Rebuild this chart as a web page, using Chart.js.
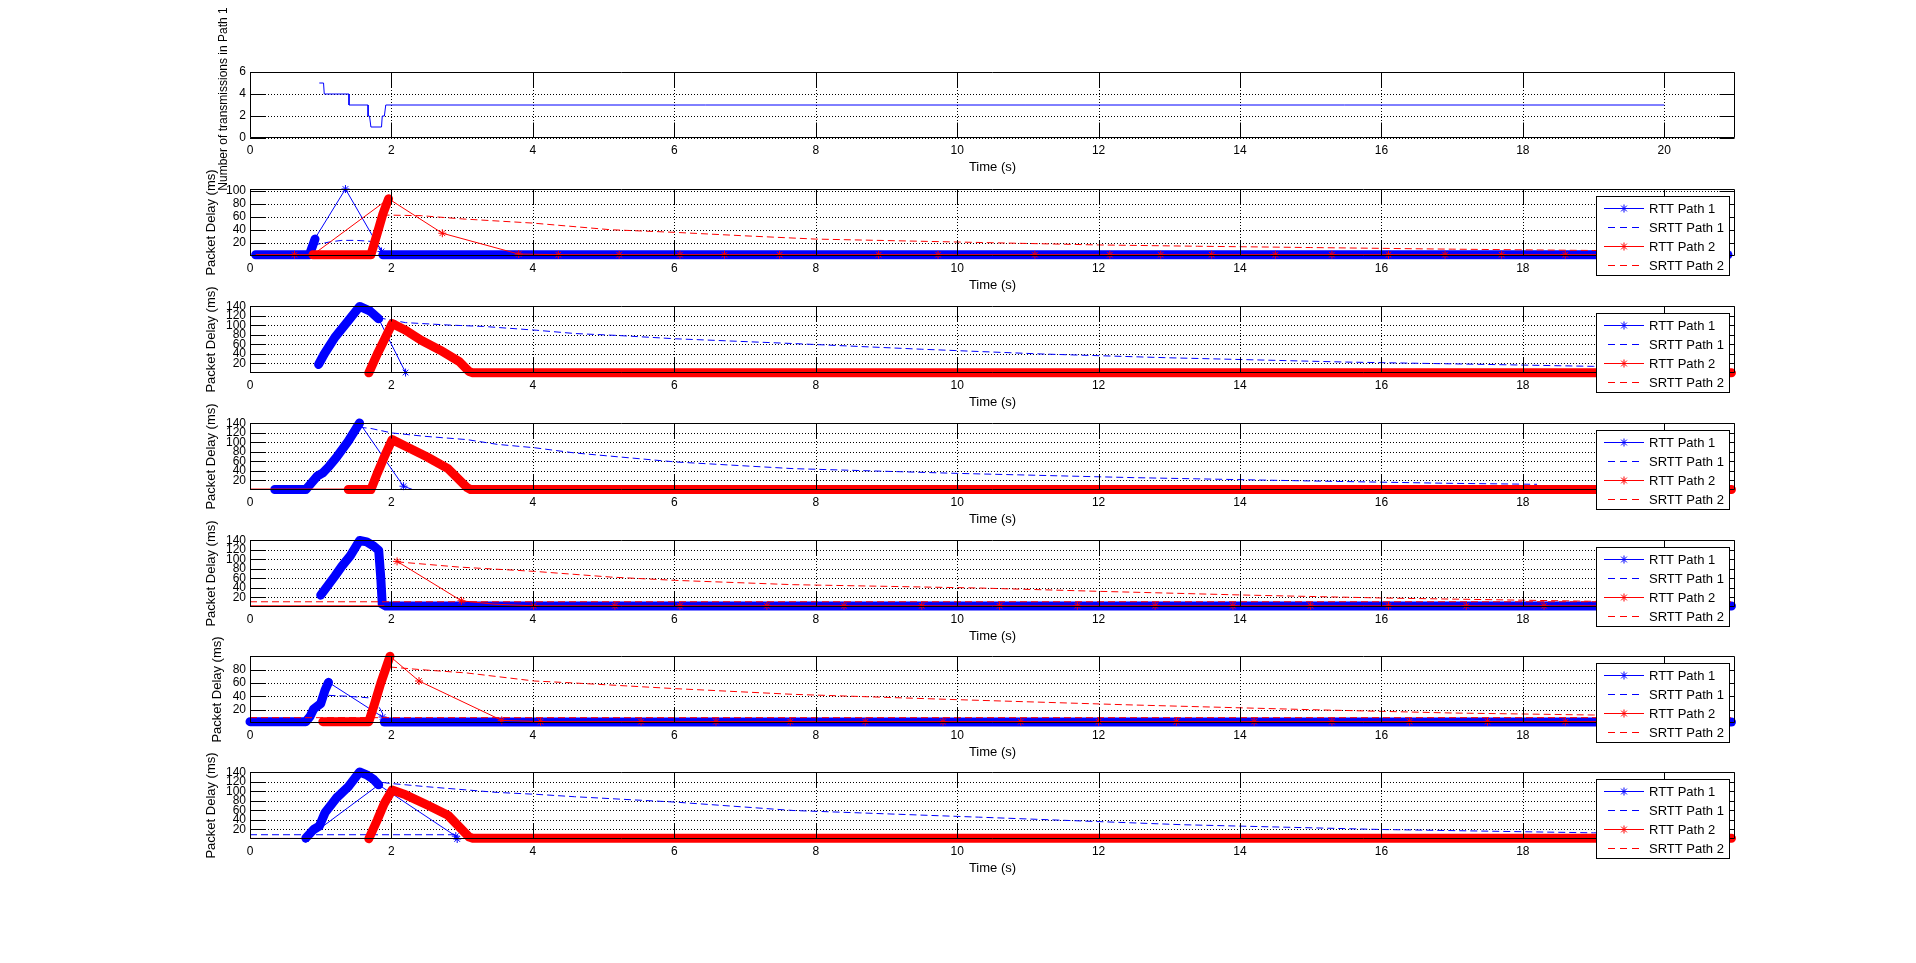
<!DOCTYPE html>
<html><head><meta charset="utf-8">
<script src="https://cdn.jsdelivr.net/npm/chart.js@4/dist/chart.umd.min.js"></script>
<style>
html,body{margin:0;padding:0;background:#fff;width:1916px;height:963px;overflow:hidden;}
canvas{position:absolute;left:0;top:0;}
</style></head><body>
<script>
// ---------- tick labels ----------
const timeTicks = [0,2,4,6,8,10,12,14,16,18,20];
const nTxTicks = [0,2,4,6];
const delayTicks140 = [20,40,60,80,100,120,140];
const delayTicks100 = [20,40,60,80,100];
const delayTicks80 = [20,40,60,80];
const legendLabels = ['RTT Path 1','SRTT Path 1','RTT Path 2','SRTT Path 2'];
const xTitle = 'Time (s)';
const yTitleTx = 'Number of transmissions in Path 1';
const yTitleDelay = 'Packet Delay (ms)';

// ---------- subplot 1 : number of transmissions ----------
const tx1 = [[0.98,5],[1.04,5],[1.05,4],[1.40,4],[1.40,3],[1.67,3],[1.67,2],[1.69,2],[1.71,1],[1.86,1],[1.87,2],[1.90,2],[1.92,3],[20,3]];

// ---------- subplot 2 ----------  ([x, y, 0] = vertex without marker)
const s2_rtt1_band1 = [[0.08,2],[0.84,2],[0.88,14],[0.92,26]];
const s2_rtt1_line = [[0.92,27,0],[1.35,103],[1.86,7],[1.9,2,0]];
const s2_rtt1_band2 = [[1.88,2],[20.9,2]];
const s2_srtt1 = [[0.9,17],[1.0,19],[1.15,22],[1.3,24],[1.5,24],[1.65,23],[1.75,22],[1.82,15],[1.88,7],[2.0,5],[20.9,4]];
const s2_rtt2_band = [[0.89,2],[1.71,2],[1.8,35],[1.88,65],[1.96,88]];
const s2_rtt2_line = [[0.08,2,0],[0.63,2],[0.89,2,0],[1.96,88,0],[2.72,35],[3.80,3],[4.36,2],[5.22,2],[6.08,2],[6.71,2],[7.49,2],[8.89,2],[9.73,2],[11.10,2],[12.16,2],[12.88,2],[13.6,2],[14.5,2],[15.3,2],[16.1,2],[16.9,2],[17.7,2],[18.6,2],[19.4,2]];
const s2_srtt2 = [[1.875,63],[2.42,62],[3.0,57],[4.0,50.6],[5.1,40.4],[6.02,36.3],[7.0,31],[8.0,26],[10,21.5],[12,17],[13.4,15],[15,13],[17,10.5],[19,8.5],[20.9,7]];

// ---------- subplot 3 ----------
const s3_rtt1_band = [[0.97,18],[1.05,40],[1.2,75],[1.38,108],[1.55,140],[1.7,130],[1.82,114]];
const s3_rtt1_line = [[1.82,114,0],[2.2,1],[3.1,1,0],[20.9,1,0]];
const s3_srtt1 = [[1.82,116],[1.98,112],[2.2,106],[2.8,101],[3.3,98],[4.05,90],[4.6,83],[5.2,79],[6.02,72],[7.68,62],[9.5,50],[11.2,40],[13,32],[15.5,23],[17.5,18],[19,14],[20.9,11]];
const s3_rtt2_band = [[1.68,0.3],[1.8,40],[1.9,70],[2.01,104],[2.2,90],[2.42,69],[2.69,48],[2.96,24],[3.1,3],[3.15,0.3],[20.95,0.3]];

// ---------- subplot 4 ----------
const s4_rtt1_band = [[0.35,1],[0.79,1],[0.87,15],[0.95,29],[1.03,36],[1.12,50],[1.22,68],[1.39,103],[1.55,141]];
const s4_rtt1_line = [[1.55,141,0],[2.17,8],[2.3,1,0]];
const s4_srtt1 = [[1.55,132],[1.71,129.5],[2.01,120],[2.47,113],[3.07,106],[3.5,96],[4.02,89],[4.59,78],[6.02,59],[7.68,45],[10,35],[12.5,26],[15,19],[17,14],[18.2,12]];
const s4_rtt2_line = [[0,2,0],[1.39,2,0]];
const s4_rtt2_band = [[1.39,1],[1.71,1],[1.8,35],[1.9,70],[2.01,106],[2.2,92],[2.5,70],[2.8,45],[3.07,5],[3.12,1],[20.95,1]];

// ---------- subplot 5 ----------
const s5_rtt1_band = [[1.0,25],[1.1,45],[1.2,65],[1.3,86],[1.42,108],[1.55,140],[1.65,137],[1.75,128],[1.82,119],[1.85,60],[1.87,6],[1.92,2],[20.95,2]];
const s5_rtt2_base = [[0,2.5,0],[1.9,2.5,0]];
const s5_rtt2_line = [[2.08,96],[2.99,13],[3.45,6,0],[4.01,2.5],[5.16,2.5],[6.08,2.5],[7.31,2.5],[8.4,2.5],[9.5,2.5],[10.6,2.5],[11.7,2.5],[12.8,2.5],[13.9,2.5],[15.0,2.5],[16.1,2.5],[17.2,2.5],[18.3,2.5],[20.9,2.5,0]];
const s5_srtt2_flat = [[0,11],[20.95,11]];
const s5_srtt2 = [[2.08,95],[2.96,84],[4.02,75],[5.1,63],[6.02,56],[7.68,47],[10.3,40],[12,33],[14.1,25],[16,19],[19,12],[20.9,10]];

// ---------- subplot 6 ----------
const s6_rtt1_band1 = [[0,2],[0.79,2],[0.85,10],[0.9,21],[1.0,29],[1.06,49],[1.11,61]];
const s6_rtt1_line = [[1.11,61],[1.875,9],[1.92,2,0]];
const s6_rtt1_band2 = [[1.9,1.5],[20.95,1.5]];
const s6_srtt1 = [[1.11,41.5],[1.4,40],[1.71,37.5],[1.82,25],[1.9,9],[2.0,5],[20.9,4]];
const s6_rtt2_band = [[1.03,2],[1.68,2],[1.75,25],[1.85,60],[1.98,100]];
const s6_rtt2_line = [[1.98,100,0],[2.39,63],[3.56,4],[4.11,2],[5.53,2],[6.59,2],[7.64,2],[8.7,2],[9.8,2],[10.9,2],[12.0,2],[13.1,2],[14.2,2],[15.3,2],[16.4,2],[17.5,2],[18.6,2],[20.9,2,0]];
const s6_srtt2_flat = [[0,8],[20.95,8]];
const s6_srtt2 = [[1.98,84],[2.42,80],[3.07,75],[4.02,63],[4.59,60],[6.02,51.5],[7.68,43],[10,35],[12.5,27],[15,20],[17,15],[19,12],[20.9,10]];

// ---------- subplot 7 ----------
const s7_rtt1_band = [[0.79,2],[0.9,20],[0.98,27],[1.06,55],[1.22,86],[1.39,110],[1.55,141],[1.65,135],[1.75,125],[1.82,114]];
const s7_rtt1_line = [[0.79,0],[1.82,114,0],[2.91,6],[2.93,0]];
const s7_srtt1_flat = [[0,9],[2.91,9]];
const s7_srtt1 = [[1.875,119],[1.98,117],[2.5,110],[3.5,98],[4.05,94],[4.59,89],[6.02,77.6],[7.68,60],[10.3,46],[13.2,30],[16,20],[19,13],[20.9,11]];
const s7_rtt2_base = [[0,1.2,0],[1.66,1.2,0]];
const s7_rtt2_band = [[1.68,0.5],[1.8,40],[1.9,75],[2.01,103],[2.2,93],[2.5,72],[2.8,50],[3.1,4],[3.15,1.5],[20.95,1.5]];

// ---------- styling helpers ----------
const BLUE = '#0000ff', RED = '#ff0000';
const FONT = "'Liberation Sans', Arial, Helvetica, sans-serif";
function pts(a){ return a.map(p => ({x:p[0], y:p[1], m:(p.length>2 ? p[2] : 1)})); }
function band(a,c){ return {data:pts(a), showLine:true, borderColor:c, backgroundColor:c, borderWidth:9, pointRadius:0, borderJoinStyle:'round', borderCapStyle:'round', clip:false}; }
function thin(a,c){ return {data:pts(a), showLine:true, borderColor:c, backgroundColor:c, borderWidth:1, pointStyle:'star', pointRadius:(ctx)=> (ctx.raw && ctx.raw.m===0) ? 0 : 4, pointBorderColor:c, pointBorderWidth:1, clip:false}; }
function dashed(a,c){ return {data:pts(a), showLine:true, borderColor:c, borderWidth:1, borderDash:[7,4], pointRadius:0, clip:false}; }
function line(a,c){ return {data:pts(a), showLine:true, borderColor:c, borderWidth:1, pointRadius:0, clip:false}; }

function drawStar(ctx,x,y,r){
  const d=r*0.72;
  ctx.moveTo(x,y-r);ctx.lineTo(x,y+r);
  ctx.moveTo(x-r,y);ctx.lineTo(x+r,y);
  ctx.moveTo(x-d,y-d);ctx.lineTo(x+d,y+d);
  ctx.moveTo(x-d,y+d);ctx.lineTo(x+d,y-d);
}

const matlabPlugin = {
  id:'matlab',
  beforeDatasetsDraw(chart){
    const {ctx, chartArea:a, scales:{x,y}} = chart;
    ctx.save();
    ctx.strokeStyle='#000'; ctx.lineWidth=1; ctx.setLineDash([1,2]);
    ctx.beginPath();
    x.ticks.forEach(t=>{ const px=Math.round(x.getPixelForValue(t.value))+0.5; ctx.moveTo(px,a.top); ctx.lineTo(px,a.bottom); });
    y.ticks.forEach(t=>{ const py=Math.round(y.getPixelForValue(t.value))+0.5; ctx.moveTo(a.left,py); ctx.lineTo(a.right,py); });
    ctx.stroke();
    ctx.restore();
  },
  afterDatasetsDraw(chart){
    const {ctx, chartArea:a, scales:{x,y}} = chart;
    const L=Math.round(a.left)+0.5, R=Math.round(a.right)-0.5, T=Math.round(a.top)+0.5, B=Math.round(a.bottom)-0.5;
    const tl=15;
    ctx.save();
    ctx.strokeStyle='#000'; ctx.lineWidth=1; ctx.setLineDash([]);
    ctx.beginPath();
    ctx.rect(L,T,R-L,B-T);
    x.ticks.forEach(t=>{ const px=Math.round(x.getPixelForValue(t.value))+0.5; ctx.moveTo(px,B); ctx.lineTo(px,B-tl); ctx.moveTo(px,T); ctx.lineTo(px,T+tl); });
    y.ticks.forEach(t=>{ const py=Math.round(y.getPixelForValue(t.value))+0.5; ctx.moveTo(L,py); ctx.lineTo(L+tl,py); ctx.moveTo(R,py); ctx.lineTo(R-tl,py); });
    ctx.stroke();
    ctx.restore();
  },
  afterDraw(chart, args, opts){
    const {ctx, chartArea:a} = chart;
    ctx.save();
    ctx.fillStyle='#000';
    ctx.font='13px '+FONT;
    ctx.textAlign='center'; ctx.textBaseline='middle';
    ctx.fillText(xTitle,(a.left+a.right)/2,a.bottom+29);
    ctx.translate(opts.ylabelX, opts.ylabelY!=null ? opts.ylabelY : (a.top+a.bottom)/2);
    ctx.rotate(-Math.PI/2);
    ctx.font=(opts.ylabelSize||13)+'px '+FONT;
    ctx.fillText(opts.ylabel,0,0);
    ctx.restore();
    if(opts.legend){
      const w=133,h=79;
      const x0=Math.round(a.right)-6-w, y0=Math.round(a.top)+7;
      ctx.save();
      ctx.fillStyle='#fff'; ctx.fillRect(x0,y0,w,h);
      ctx.strokeStyle='#000'; ctx.lineWidth=1; ctx.strokeRect(x0+0.5,y0+0.5,w,h);
      const cols=[BLUE,BLUE,RED,RED];
      legendLabels.forEach((lab,i)=>{
        const yy=y0+12+i*19+0.5;
        ctx.strokeStyle=cols[i]; ctx.lineWidth=1;
        ctx.beginPath();
        if(i%2===0){
          ctx.setLineDash([]);
          ctx.moveTo(x0+8,yy); ctx.lineTo(x0+48,yy);
          drawStar(ctx,x0+28,yy,4);
        } else {
          ctx.setLineDash([7,5]);
          ctx.moveTo(x0+12,yy); ctx.lineTo(x0+48,yy);
        }
        ctx.stroke();
        ctx.setLineDash([]);
        ctx.fillStyle='#000'; ctx.font='13px '+FONT; ctx.textAlign='left'; ctx.textBaseline='middle';
        ctx.fillText(lab,x0+53,yy+0.5);
      });
      ctx.restore();
    }
  }
};

const plotDefs = [
  {top:72, bottom:138, ymin:0, ymax:6, yticks:nTxTicks, ylabel:yTitleTx, ylabelX:224, ylabelY:99, ylabelSize:12, legend:false,
   ds:[line(tx1,BLUE)]},
  {top:189, bottom:256, ymin:0, ymax:103, yticks:delayTicks100, ylabel:yTitleDelay, ylabelX:211, legend:true,
   ds:[band(s2_rtt1_band1,BLUE), thin(s2_rtt1_line,BLUE), band(s2_rtt1_band2,BLUE), dashed(s2_srtt1,BLUE),
       band(s2_rtt2_band,RED), thin(s2_rtt2_line,RED), dashed(s2_srtt2,RED)]},
  {top:306, bottom:373, ymin:0, ymax:141, yticks:delayTicks140, ylabel:yTitleDelay, ylabelX:211, legend:true,
   ds:[band(s3_rtt1_band,BLUE), thin(s3_rtt1_line,BLUE), dashed(s3_srtt1,BLUE), band(s3_rtt2_band,RED)]},
  {top:423, bottom:490, ymin:0, ymax:141, yticks:delayTicks140, ylabel:yTitleDelay, ylabelX:211, legend:true,
   ds:[band(s4_rtt1_band,BLUE), thin(s4_rtt1_line,BLUE), dashed(s4_srtt1,BLUE), line(s4_rtt2_line,RED), band(s4_rtt2_band,RED)]},
  {top:540, bottom:607, ymin:0, ymax:141, yticks:delayTicks140, ylabel:yTitleDelay, ylabelX:211, legend:true,
   ds:[band(s5_rtt1_band,BLUE), line(s5_rtt2_base,RED), thin(s5_rtt2_line,RED), dashed(s5_srtt2_flat,RED), dashed(s5_srtt2,RED)]},
  {top:656, bottom:723, ymin:0, ymax:100.5, yticks:delayTicks80, ylabel:yTitleDelay, ylabelX:217, legend:true,
   ds:[band(s6_rtt1_band1,BLUE), thin(s6_rtt1_line,BLUE), band(s6_rtt1_band2,BLUE), dashed(s6_srtt1,BLUE),
       band(s6_rtt2_band,RED), thin(s6_rtt2_line,RED), dashed(s6_srtt2_flat,RED), dashed(s6_srtt2,RED)]},
  {top:772, bottom:839, ymin:0, ymax:141, yticks:delayTicks140, ylabel:yTitleDelay, ylabelX:211, legend:true,
   ds:[band(s7_rtt1_band,BLUE), thin(s7_rtt1_line,BLUE), dashed(s7_srtt1_flat,BLUE), dashed(s7_srtt1,BLUE),
       line(s7_rtt2_base,RED), band(s7_rtt2_band,RED)]}
];

plotDefs.forEach((p,idx)=>{
  const cv=document.createElement('canvas');
  cv.width=1916; cv.height=963;
  cv.style.width='1916px'; cv.style.height='963px';
  document.body.appendChild(cv);
  const n=p.ds.length;
  p.ds.forEach((d,i)=>{ d.order=n-i; });
  new Chart(cv,{
    type:'scatter',
    data:{datasets:p.ds},
    options:{
      responsive:false, animation:false, events:[], devicePixelRatio:1,
      layout:{padding:{left:0,right:1916-1735,top:p.top,bottom:963-p.bottom-40}},
      plugins:{legend:{display:false}, tooltip:{enabled:false},
        matlab:{ylabel:p.ylabel, ylabelX:p.ylabelX, ylabelY:p.ylabelY, ylabelSize:p.ylabelSize, legend:p.legend}},
      scales:{
        x:{type:'linear', min:0, max:21,
           afterBuildTicks:(s)=>{ s.ticks=timeTicks.map(v=>({value:v})); },
           afterFit:(s)=>{ s.height=40; },
           grid:{display:false, drawTicks:false}, border:{display:false},
           ticks:{color:'#000', font:{family:FONT,size:12}, padding:5, autoSkip:false, maxRotation:0, callback:(v)=>String(v)}},
        y:{type:'linear', min:p.ymin, max:p.ymax,
           afterBuildTicks:(s)=>{ s.ticks=p.yticks.map(v=>({value:v})); },
           afterFit:(s)=>{ s.width=250; },
           grid:{display:false, drawTicks:false}, border:{display:false},
           ticks:{color:'#000', font:{family:FONT,size:12}, padding:4, autoSkip:false, callback:(v)=>String(v)}}
      }
    },
    plugins:[matlabPlugin]
  });
});
</script>
</body></html>
